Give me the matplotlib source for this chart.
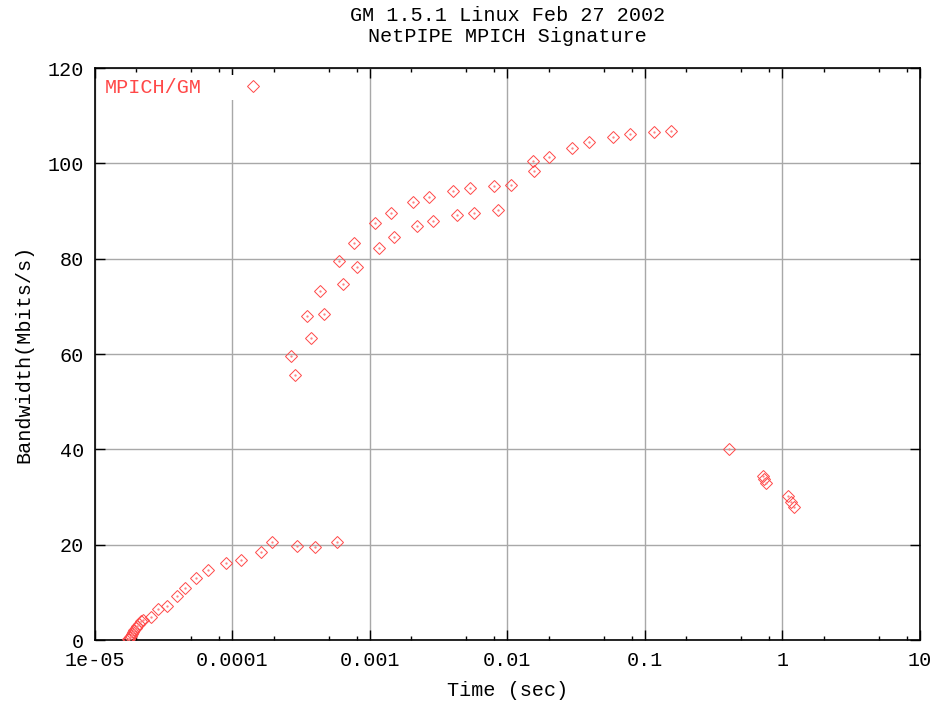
import matplotlib
matplotlib.use('Agg')
import matplotlib.pyplot as plt
from matplotlib.ticker import LogLocator, FixedLocator, NullFormatter
import numpy as np

# small messages (latency dominated part)
t_small = [1.74e-5, 1.77e-5, 1.80e-5, 1.83e-5, 1.86e-5, 1.89e-5, 1.92e-5, 1.99e-5,
           2.02e-5, 2.09e-5, 2.16e-5, 2.23e-5, 2.55e-5, 2.87e-5, 3.34e-5, 3.95e-5,
           4.51e-5, 5.43e-5, 6.63e-5, 8.97e-5, 1.153e-4, 1.61e-4, 1.94e-4, 2.94e-4,
           3.98e-4, 5.75e-4]
bw_small = [0.2, 0.3, 0.6, 0.8, 1.3, 1.7, 2.1, 2.5,
            2.9, 3.4, 4.0, 4.2, 4.8, 6.5, 7.1, 9.2,
            10.9, 13.0, 14.7, 16.2, 16.8, 18.5, 20.6, 19.7,
            19.5, 20.6]

# larger messages, upper sweep
t_upper = [2.65e-4, 3.47e-4, 4.31e-4, 5.92e-4, 7.61e-4, 1.08e-3, 1.41e-3, 2.05e-3,
           2.70e-3, 3.99e-3, 5.34e-3, 7.94e-3, 1.055e-2, 1.52e-2, 2.00e-2, 2.94e-2,
           3.92e-2, 5.85e-2, 7.78e-2, 0.116, 0.155]
bw_upper = [59.6, 68.0, 73.2, 79.5, 83.3, 87.4, 89.6, 91.8,
            93.0, 94.1, 94.8, 95.2, 95.4, 100.4, 101.3, 103.2,
            104.5, 105.5, 106.1, 106.5, 106.8]

# larger messages, lower sweep
t_lower = [2.85e-4, 3.70e-4, 4.61e-4, 6.33e-4, 8.00e-4, 1.156e-3, 1.49e-3, 2.19e-3,
           2.86e-3, 4.28e-3, 5.68e-3, 8.53e-3, 1.55e-2]
bw_lower = [55.6, 63.4, 68.3, 74.6, 78.2, 82.2, 84.5, 86.8,
            87.8, 89.1, 89.5, 90.2, 98.4]

# biggest messages, bandwidth drop
t_drop = [0.410, 0.721, 0.738, 0.755, 1.096, 1.148, 1.206]
bw_drop = [40.0, 34.4, 33.7, 33.0, 30.2, 29.0, 27.8]

t_all = t_small + t_upper + t_lower + t_drop
bw_all = bw_small + bw_upper + bw_lower + bw_drop

font = 'Liberation Mono'
fs = 14.5
red = '#ff4848'

fig = plt.figure(figsize=(9.34, 7.05), dpi=100)
ax = fig.add_axes([95/934, 65/705, 825/934, 572/705])

ax.plot(t_all, bw_all, linestyle='none', marker='D', markersize=6.3,
        mfc='none', mec=red, mew=0.7, label='MPICH/GM', zorder=3)
ax.plot(t_all, bw_all, linestyle='none', marker='.', markersize=1.3,
        color='#ff8080', zorder=3)

ax.set_xscale('log')
ax.set_xlim(1e-5, 10)
ax.set_ylim(0, 120)

ax.xaxis.set_major_locator(LogLocator(base=10, numticks=10))
ax.xaxis.set_minor_locator(LogLocator(base=10, subs=[2, 5, 8], numticks=20))
ax.xaxis.set_minor_formatter(NullFormatter())
xt = [1e-5, 1e-4, 1e-3, 1e-2, 1e-1, 1, 10]
xl = ['1e-05', '0.0001', '0.001', '0.01', '0.1', '1', '10']
ax.set_xticks(xt)
ax.set_xticklabels(xl)
ax.yaxis.set_major_locator(FixedLocator([0, 20, 40, 60, 80, 100, 120]))

ax.tick_params(which='major', direction='in', length=7, width=1, top=True, right=True,
               labelsize=fs, pad=8)
ax.tick_params(which='minor', direction='in', length=3, width=1, top=True, right=False)
for lab in ax.get_xticklabels() + ax.get_yticklabels():
    lab.set_fontfamily(font)

ax.grid(True, which='major', color='#a8a8a8', linewidth=1, zorder=0)
ax.set_axisbelow(True)
for s in ax.spines.values():
    s.set_linewidth(1.2)

ax.set_xlabel('Time (sec)', fontfamily=font, fontsize=fs, labelpad=8)
ax.set_ylabel('Bandwidth(Mbits/s)', fontfamily=font, fontsize=fs, labelpad=10)
ax.set_title('GM 1.5.1 Linux Feb 27 2002\nNetPIPE MPICH Signature',
             fontfamily=font, fontsize=fs, pad=19, linespacing=1.1)

leg = ax.legend(loc='upper left', markerfirst=False, fancybox=False, framealpha=1,
                edgecolor='white', handlelength=2.5, handletextpad=1.3,
                borderaxespad=0.35, borderpad=0.15, labelcolor=red,
                prop={'family': font, 'size': fs})
leg.get_frame().set_linewidth(0)

fig.savefig('out.png', dpi=100)
